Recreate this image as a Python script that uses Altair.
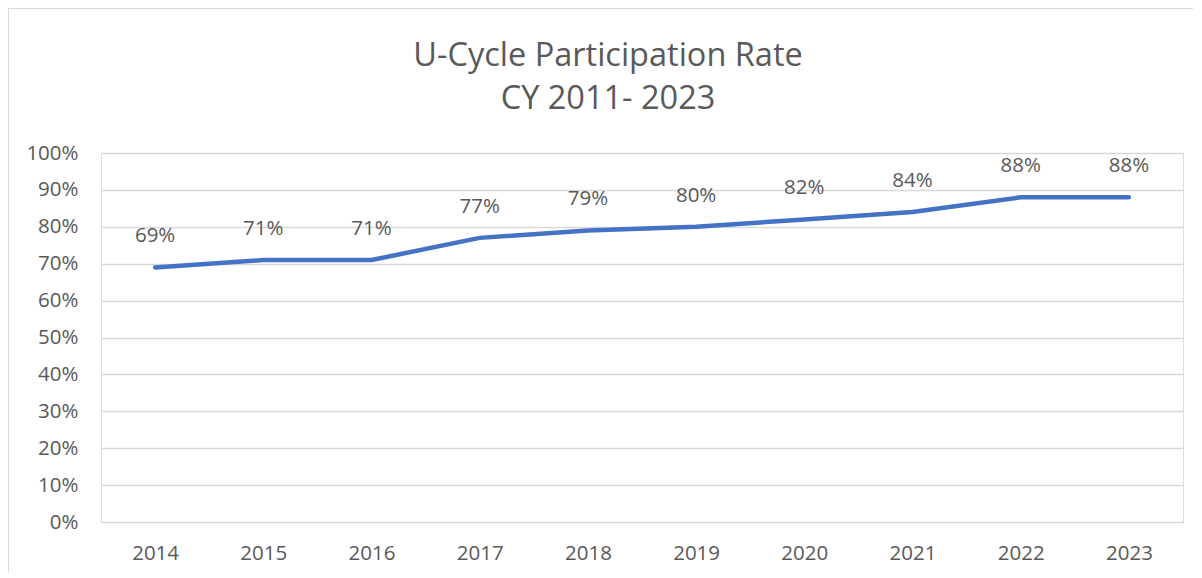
import altair as alt
import pandas as pd

years = ["2014", "2015", "2016", "2017", "2018", "2019", "2020", "2021", "2022", "2023"]
rates = [0.69, 0.71, 0.71, 0.77, 0.79, 0.80, 0.82, 0.84, 0.88, 0.88]
y_ticks = [0.0, 0.1, 0.2, 0.3, 0.4, 0.5, 0.6, 0.7, 0.8, 0.9, 1.0]

df = pd.DataFrame({"year": years, "rate": rates})

FONT = "Open Sans"
GRAY = "#595959"
FS = 20.5
BORDER = "#d9d9d9"

x = alt.X("year:N", sort=years, title=None,
          scale=alt.Scale(paddingInner=0, paddingOuter=0),
          axis=alt.Axis(labelAngle=0, labelFontSize=FS, labelColor=GRAY, labelFont=FONT,
                        ticks=False, domain=False, labelPadding=21, grid=False))
y = alt.Y("rate:Q", title=None,
          scale=alt.Scale(domain=[0, 1]),
          axis=alt.Axis(format=".0%", values=y_ticks, labelFontSize=FS,
                        labelColor=GRAY, labelFont=FONT, ticks=False, domain=False,
                        labelOverlap=False, labelPadding=23, gridColor="#d9d9d9",
                        gridWidth=1.5))

# chart-area border (left, top, bottom edges; right edge lies outside the picture)
border_left = alt.Chart(df).mark_rule(color=BORDER, strokeWidth=1.5, clip=False).encode(
    x=alt.value(-93), y=alt.value(-145), y2=alt.value(424))
border_top = alt.Chart(df).mark_rule(color=BORDER, strokeWidth=1.5, clip=False).encode(
    x=alt.value(-93), x2=alt.value(1092), y=alt.value(-145))
border_bottom = alt.Chart(df).mark_rule(color=BORDER, strokeWidth=1.5, clip=False).encode(
    x=alt.value(-93), x2=alt.value(1092), y=alt.value(424))

line = alt.Chart(df).mark_line(color="#4472C4", strokeWidth=4.5, strokeCap="round",
                               strokeJoin="round").encode(x=x, y=y)

labels = alt.Chart(df).mark_text(fontSize=FS, font=FONT, color=GRAY, baseline="middle",
                                 dy=-31).encode(
    x=x,
    y=y,
    text=alt.Text("rate:Q", format=".0%"),
)

chart = alt.layer(line, labels, border_left, border_top, border_bottom).properties(
    width=1082,
    height=369,
    title=alt.TitleParams(
        text=["U-Cycle Participation Rate", "CY 2011- 2023"],
        fontSize=32.5, font=FONT, fontWeight="normal", color=GRAY,
        anchor="middle", frame="group", dx=-34, offset=-141, lineHeight=43,
        baseline="bottom",
    ),
    padding={"left": 93, "top": 145, "right": 10, "bottom": 50},
    autosize=alt.AutoSizeParams(type="none"),
).configure_view(stroke=None).configure(background="white")

chart.save("out.html", embed_options={"renderer": "svg", "actions": False})
